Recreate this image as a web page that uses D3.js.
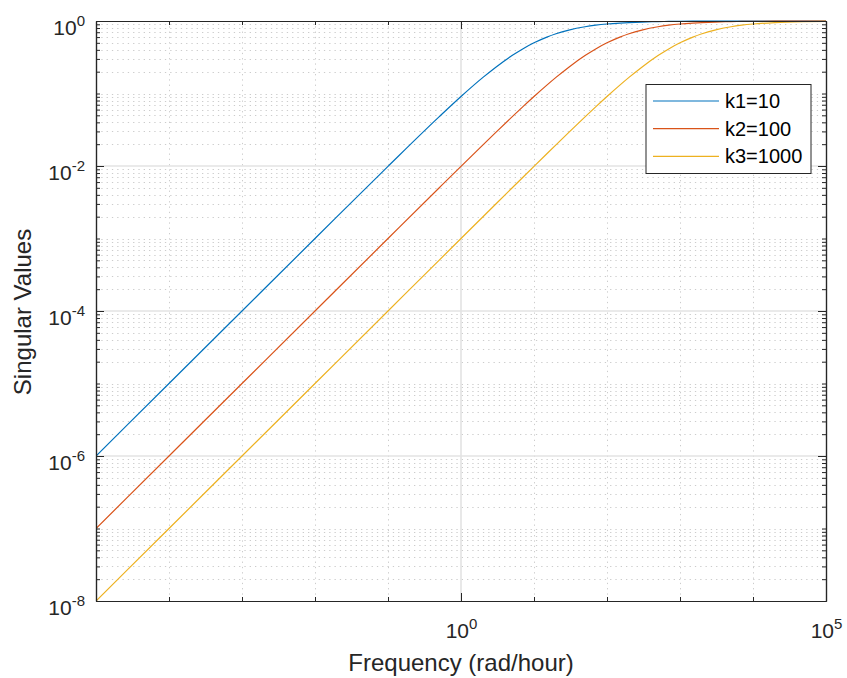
<!DOCTYPE html>
<html>
<head>
<meta charset="utf-8">
<script src="https://cdn.jsdelivr.net/npm/d3@7"></script>
<style>
  html, body { margin: 0; padding: 0; background: #fff; }
  svg { display: block; font-family: "Liberation Sans", Arial, Helvetica, sans-serif; }
</style>
</head>
<body>
<svg id="chart" width="847" height="678"></svg>
<script>
// Frequency samples (rad/hour) shared by all three responses
const freq = [1e-5, 1e-4, 1e-3, 1e-2, 0.1, 0.5, 1, 2, 3, 5, 7, 10, 15, 20, 30, 50, 70,
  100, 150, 200, 300, 500, 700, 1000, 1500, 2000, 3000, 5000, 7000, 1e4, 2e4, 5e4, 1e5];

// Singular values for each gain
const svK1 = [1e-6, 1e-5, 1e-4, 9.99e-4, 0.0099, 0.0476, 0.0909, 0.1667, 0.2308, 0.3333, 0.4118,
  0.5, 0.6, 0.6667, 0.75, 0.8333, 0.875, 0.9091, 0.9375, 0.9524, 0.9677, 0.9804, 0.9859,
  0.9901, 0.9934, 0.995, 0.9967, 0.998, 0.9986, 0.999, 0.9995, 0.9998, 0.9999];
const svK2 = [1e-7, 1e-6, 1e-5, 1e-4, 9.99e-4, 0.004975, 0.0099, 0.0196, 0.0291, 0.0476, 0.0654,
  0.0909, 0.1304, 0.1667, 0.2308, 0.3333, 0.4118, 0.5, 0.6, 0.6667, 0.75, 0.8333, 0.875,
  0.9091, 0.9375, 0.9524, 0.9677, 0.9804, 0.9859, 0.9901, 0.995, 0.998, 0.999];
const svK3 = [1e-8, 1e-7, 1e-6, 1e-5, 1e-4, 4.998e-4, 9.99e-4, 0.001996, 0.002991, 0.004975,
  0.006951, 0.0099, 0.01478, 0.0196, 0.0291, 0.0476, 0.0654, 0.0909, 0.1304, 0.1667, 0.2308,
  0.3333, 0.4118, 0.5, 0.6, 0.6667, 0.75, 0.8333, 0.875, 0.9091, 0.9524, 0.9804, 0.9901];

const seriesNames = ["k1=10", "k2=100", "k3=1000"];
const seriesColors = ["#0072BD", "#D95319", "#EDB120"];

// Axis ticks (powers of ten)
const xLabelExp = [0, 5];
const xDecadeExp = [-4, -3, -2, -1, 1, 2, 3, 4];
const yLabelExp = [0, -2, -4, -6, -8];

const W = 847, H = 678;
const L = 96, R = 826, T = 21, B = 601;
const axisColor = "#262626";

const svg = d3.select("#chart");
svg.append("rect").attr("width", W).attr("height", H).attr("fill", "#fff");

const x = d3.scaleLog().domain([1e-5, 1e5]).range([L, R]);
const y = d3.scaleLog().domain([1e-8, 1]).range([B, T]);

// Minor y values: every integer multiple within each decade, except labeled powers
const yMinor = [];
for (let d = -8; d < 0; d++) {
  for (let k = 1; k <= 9; k++) {
    const v = k * Math.pow(10, d);
    if (k === 1 && yLabelExp.includes(d)) continue;
    yMinor.push(v);
  }
}
const yMajor = yLabelExp.map(e => Math.pow(10, e));
const xMajor = xLabelExp.map(e => Math.pow(10, e));
const xMinor = xDecadeExp.map(e => Math.pow(10, e));

// Grid
const grid = svg.append("g");
grid.selectAll("line.ymin").data(yMinor).join("line")
  .attr("x1", L).attr("x2", R)
  .attr("y1", d => Math.round(y(d)) + 0.5).attr("y2", d => Math.round(y(d)) + 0.5)
  .attr("stroke", "#cccccc").attr("stroke-width", 1).attr("stroke-dasharray", "1.3,4");
grid.selectAll("line.xmin").data(xMinor).join("line")
  .attr("y1", T).attr("y2", B)
  .attr("x1", d => Math.round(x(d)) + 0.5).attr("x2", d => Math.round(x(d)) + 0.5)
  .attr("stroke", "#cccccc").attr("stroke-width", 1).attr("stroke-dasharray", "1.3,4");
grid.selectAll("line.ymaj").data(yMajor.filter(v => v > 1e-8 && v < 1)).join("line")
  .attr("x1", L).attr("x2", R)
  .attr("y1", d => y(d)).attr("y2", d => y(d))
  .attr("stroke", "#e3e3e3").attr("stroke-width", 1.6);
grid.selectAll("line.xmaj").data(xMajor.filter(v => v < 1e5)).join("line")
  .attr("y1", T).attr("y2", B)
  .attr("x1", d => x(d)).attr("x2", d => x(d))
  .attr("stroke", "#e3e3e3").attr("stroke-width", 1.6);

// Curves
const series = [svK1, svK2, svK3];
const line = d3.line()
  .x((d, i) => x(freq[i]))
  .y(d => y(d))
  .curve(d3.curveMonotoneX);
svg.append("defs").append("clipPath").attr("id", "plotclip")
  .append("rect").attr("x", L).attr("y", T - 1).attr("width", R - L).attr("height", B - T + 2);
const curves = svg.append("g").attr("clip-path", "url(#plotclip)");
series.forEach((s, i) => {
  curves.append("path").attr("d", line(s))
    .attr("fill", "none").attr("stroke", seriesColors[i]).attr("stroke-width", 1.2);
});

// Axes with inward ticks on all four sides
function styleAxis(g) {
  g.select(".domain").attr("stroke", axisColor).attr("stroke-width", 1.2);
  g.selectAll(".tick line").attr("stroke", axisColor).attr("stroke-width", 1);
}
const noLabel = () => "";
svg.append("g").attr("transform", `translate(${L},0)`)
  .call(d3.axisLeft(y).tickValues(yMinor).tickSize(-4).tickSizeOuter(0).tickFormat(noLabel)).call(styleAxis);
svg.append("g").attr("transform", `translate(${R},0)`)
  .call(d3.axisRight(y).tickValues(yMinor).tickSize(-4).tickSizeOuter(0).tickFormat(noLabel)).call(styleAxis);
svg.append("g").attr("transform", `translate(${R},0)`)
  .call(d3.axisRight(y).tickValues(yMajor).tickSize(-8).tickSizeOuter(0).tickFormat(noLabel)).call(styleAxis);
svg.append("g").attr("transform", `translate(0,${B})`)
  .call(d3.axisBottom(x).tickValues(xMinor).tickSize(-4).tickSizeOuter(0).tickFormat(noLabel)).call(styleAxis);
svg.append("g").attr("transform", `translate(0,${T})`)
  .call(d3.axisTop(x).tickValues(xMinor).tickSize(-4).tickSizeOuter(0).tickFormat(noLabel)).call(styleAxis);
svg.append("g").attr("transform", `translate(0,${T})`)
  .call(d3.axisTop(x).tickValues(xMajor).tickSize(-8).tickSizeOuter(0).tickFormat(noLabel)).call(styleAxis);

// Labeled axes (powers of ten with superscript exponents)
function powerLabel(sel, exps) {
  sel.selectAll(".tick text").each(function (d, i) {
    const t = d3.select(this).text(null);
    t.append("tspan").text("10");
    t.append("tspan").attr("dy", -9).attr("font-size", 15).text(exps[i]);
  });
}
const yAx = svg.append("g").attr("transform", `translate(${L},0)`)
  .call(d3.axisLeft(y).tickValues(yMajor).tickSize(-8).tickSizeOuter(0).tickPadding(12)).call(styleAxis);
yAx.selectAll(".tick text").attr("font-size", 21).attr("fill", axisColor)
  .attr("font-family", "'Liberation Sans', Arial, sans-serif").attr("dy", 13).attr("x", -11);
powerLabel(yAx, yLabelExp);

const xAx = svg.append("g").attr("transform", `translate(0,${B})`)
  .call(d3.axisBottom(x).tickValues(xMajor).tickSize(-8).tickSizeOuter(0)).call(styleAxis);
xAx.selectAll(".tick text").attr("font-size", 21).attr("fill", axisColor)
  .attr("font-family", "'Liberation Sans', Arial, sans-serif").attr("y", 37).attr("dy", 0)
  .attr("text-anchor", "middle");
powerLabel(xAx, xLabelExp);

// Axis titles
svg.append("text").attr("x", 461).attr("y", 671).attr("text-anchor", "middle")
  .attr("font-size", 24).attr("fill", axisColor).text("Frequency (rad/hour)");
svg.append("text").attr("transform", "translate(31,312) rotate(-90)").attr("text-anchor", "middle")
  .attr("font-size", 24).attr("fill", axisColor).text("Singular Values");

// Legend
const lg = svg.append("g");
lg.append("rect").attr("x", 646).attr("y", 84.5).attr("width", 165).attr("height", 89)
  .attr("fill", "#fff").attr("stroke", axisColor).attr("stroke-width", 1);
seriesNames.forEach((name, i) => {
  const cy = 101 + i * 27.7;
  lg.append("line").attr("x1", 653).attr("x2", 719).attr("y1", cy).attr("y2", cy)
    .attr("stroke", seriesColors[i]).attr("stroke-width", 1.2);
  lg.append("text").attr("x", 725).attr("y", cy + 7).attr("font-size", 20)
    .attr("fill", "#000").text(name);
});
</script>
</body>
</html>
